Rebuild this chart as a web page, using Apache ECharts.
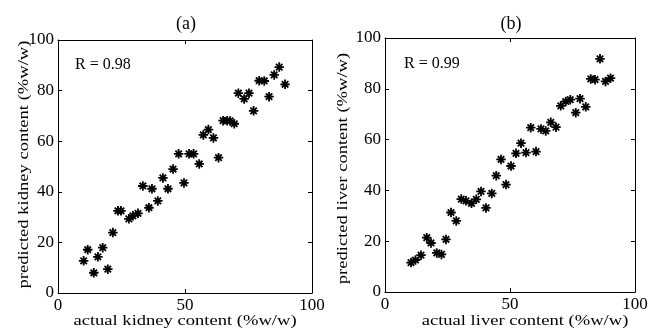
<!DOCTYPE html>
<html>
<head>
<meta charset="utf-8">
<script src="https://cdn.jsdelivr.net/npm/echarts@6/dist/echarts.min.js"></script>
<style>html,body{margin:0;padding:0;background:#fff;}#c{width:648px;height:328px;}</style>
</head>
<body>
<div id="c"></div>
<script>
// ---- data ----
const xTicks = [0, 50, 100];
const yTicks = [0, 20, 40, 60, 80, 100];
const panelTitles = ['(a)', '(b)'];
const rLabels = ['R = 0.98', 'R = 0.99'];
const xNames = ['actual kidney content (%w/w)', 'actual liver content (%w/w)'];
const yNames = ['predicted kidney content (%w/w)', 'predicted liver content (%w/w)'];

const kidneyActual = [10.1, 11.7, 14.1, 15.7, 17.6, 19.6, 21.6, 23.6, 24.8, 27.9, 29.5, 31.5, 33.4, 35.8, 37.0, 39.3, 41.3, 43.3, 45.3, 47.5, 49.6, 51.6, 53.4, 55.6, 57.2, 59.2, 61.2, 63.2, 65.0, 66.6, 67.8, 69.4, 71.0, 73.3, 75.2, 77.0, 79.2, 81.2, 83.1, 85.1, 87.1, 89.4];
const kidneyPredicted = [12.7, 17.1, 8.0, 14.3, 17.9, 9.4, 23.9, 32.5, 32.5, 29.3, 30.5, 31.5, 42.3, 33.7, 41.2, 36.4, 45.5, 41.2, 49.0, 55.0, 43.5, 55.0, 55.0, 51.0, 62.5, 64.6, 61.3, 53.5, 68.1, 68.1, 68.0, 66.9, 79.0, 76.7, 79.0, 72.0, 83.9, 83.8, 77.6, 86.2, 89.3, 82.5];

const liverActual = [10.4, 12.2, 14.4, 16.7, 18.4, 20.7, 22.6, 24.4, 26.4, 28.5, 30.5, 32.4, 34.6, 36.5, 38.4, 40.4, 42.7, 44.5, 46.4, 48.4, 50.4, 52.4, 54.4, 56.4, 58.3, 60.4, 62.4, 64.3, 66.3, 68.4, 70.3, 72.3, 74.1, 76.3, 78.0, 80.3, 82.3, 84.0, 86.0, 88.2, 90.2];
const liverPredicted = [11.6, 12.6, 14.5, 21.4, 19.3, 15.4, 14.8, 20.7, 31.3, 28.0, 36.6, 35.9, 34.9, 36.5, 39.6, 33.1, 38.8, 45.8, 52.2, 42.3, 49.6, 54.6, 58.6, 54.9, 64.7, 55.3, 64.2, 63.4, 66.8, 64.9, 73.3, 75.0, 75.7, 70.6, 76.1, 72.9, 83.9, 83.6, 91.8, 82.9, 84.2];

// ---- styling / layout ----
const FONT = 'Liberation Serif';
const BLACK = '#000';
const grids = [
  {left: 58, top: 40, width: 254, height: 253, outerBoundsMode: 'none', containLabel: false},
  {left: 385, top: 38, width: 250, height: 254, outerBoundsMode: 'none', containLabel: false}
];
const asterisk = 'path://M5,0L5,10M0,5L10,5M1.6,1.6L8.4,8.4M1.6,8.4L8.4,1.6';

function pairs(xs, ys) { return xs.map((x, i) => [x, ys[i]]); }

const line = {show: true, onZero: false, lineStyle: {color: BLACK, width: 1}};
const tick = {show: true, inside: true, length: 4, lineStyle: {color: BLACK, width: 1}};

const xAxis = [], yAxis = [];
[0, 1].forEach(g => {
  xAxis.push({
    gridIndex: g, type: 'value', min: xTicks[0], max: xTicks[xTicks.length - 1],
    interval: xTicks[1] - xTicks[0], position: 'bottom',
    axisLine: line, axisTick: tick, splitLine: {show: false},
    axisLabel: {color: BLACK, fontFamily: FONT, fontSize: 17, margin: 4}
  });
  xAxis.push({
    gridIndex: g, type: 'value', min: xTicks[0], max: xTicks[xTicks.length - 1],
    interval: xTicks[1] - xTicks[0], position: 'top',
    axisLine: line, axisTick: tick, splitLine: {show: false}, axisLabel: {show: false}
  });
  yAxis.push({
    gridIndex: g, type: 'value', min: yTicks[0], max: yTicks[yTicks.length - 1],
    interval: yTicks[1] - yTicks[0], position: 'left',
    axisLine: line, axisTick: tick, splitLine: {show: false},
    axisLabel: {color: BLACK, fontFamily: FONT, fontSize: 17, margin: 4}
  });
  yAxis.push({
    gridIndex: g, type: 'value', min: yTicks[0], max: yTicks[yTicks.length - 1],
    interval: yTicks[1] - yTicks[0], position: 'right',
    axisLine: line, axisTick: tick, splitLine: {show: false}, axisLabel: {show: false}
  });
});

const scatterStyle = {
  type: 'scatter', symbol: asterisk, symbolSize: 9.5, silent: true,
  itemStyle: {color: 'rgba(0,0,0,0)', borderColor: BLACK, borderWidth: 1.8, opacity: 1}
};

// axis names: wide lettering as in the reference
const NAME_FS = 14.5, NAME_SX = 1.28;
function nameText(text, x, y, rot) {
  return {type: 'text', x: x, y: y, rotation: rot || 0, scaleX: NAME_SX, silent: true,
    style: {text: text, align: 'center', verticalAlign: 'middle', fontFamily: FONT, fontSize: NAME_FS, fill: BLACK}};
}

const option = {
  backgroundColor: '#fff',
  animation: false,
  grid: grids,
  xAxis: xAxis,
  yAxis: yAxis,
  series: [
    Object.assign({}, scatterStyle, {xAxisIndex: 0, yAxisIndex: 0, data: pairs(kidneyActual, kidneyPredicted)}),
    Object.assign({}, scatterStyle, {xAxisIndex: 2, yAxisIndex: 2, data: pairs(liverActual, liverPredicted)})
  ],
  graphic: [
    {type: 'text', x: 186, y: 24, style: {text: panelTitles[0], align: 'center', verticalAlign: 'middle', fontFamily: FONT, fontSize: 18, fill: BLACK}},
    {type: 'text', x: 511, y: 24, style: {text: panelTitles[1], align: 'center', verticalAlign: 'middle', fontFamily: FONT, fontSize: 18, fill: BLACK}},
    {type: 'text', x: 75, y: 65, style: {text: rLabels[0], align: 'left', verticalAlign: 'middle', fontFamily: FONT, fontSize: 16, fill: BLACK}},
    {type: 'text', x: 404, y: 64, style: {text: rLabels[1], align: 'left', verticalAlign: 'middle', fontFamily: FONT, fontSize: 16, fill: BLACK}},
    nameText(xNames[0], 185, 321, 0),
    nameText(xNames[1], 525, 321, 0),
    nameText(yNames[0], 24.5, 164.5, Math.PI / 2),
    nameText(yNames[1], 343.5, 168.5, Math.PI / 2)
  ]
};

const chart = echarts.init(document.getElementById('c'), null, {renderer: 'canvas'});
chart.setOption(option);
</script>
</body>
</html>
